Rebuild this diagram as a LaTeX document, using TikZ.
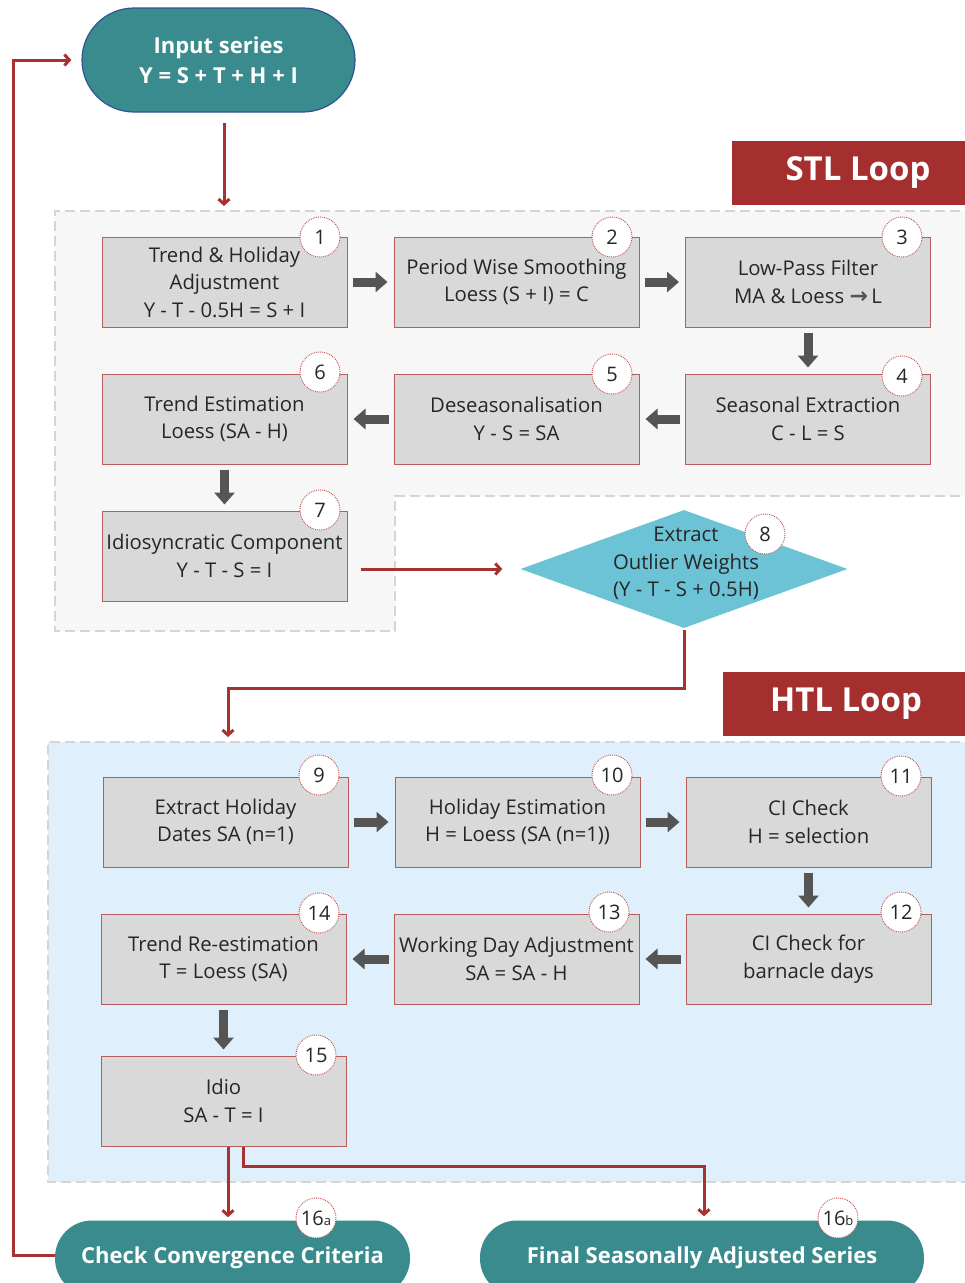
\documentclass[tikz,border=0pt]{standalone}
\usepackage{fontspec}
\setmainfont{Open Sans}
\newfontfamily\dejavu{DejaVu Sans}
\usetikzlibrary{arrows.meta,shapes.geometric}
\definecolor{teal1}{HTML}{3A8B8E}
\definecolor{tealbd}{HTML}{2F5597}
\definecolor{lbred}{HTML}{A52F2F}
\definecolor{boxfill}{HTML}{D9D9D9}
\definecolor{boxbd}{HTML}{B85C5C}
\definecolor{arrgray}{HTML}{555555}
\definecolor{connred}{HTML}{A83232}
\definecolor{stlbg}{HTML}{F7F7F7}
\definecolor{htlbg}{HTML}{DFF0FC}
\definecolor{dashgray}{HTML}{D5D5D5}
\definecolor{diafill}{HTML}{6CC3D5}
\definecolor{numred}{HTML}{C0504D}
\definecolor{txt}{HTML}{262626}
\tikzset{
  stepbox/.style={rectangle, draw=boxbd, fill=boxfill, line width=1pt, minimum width=245pt, minimum height=90pt, align=center, text=txt, inner sep=2pt, font=\fontsize{20.3}{27.5}\selectfont},
  numc/.style={circle, minimum size=40pt, inner sep=0pt, fill=white, draw=numred, densely dotted, line width=0.9pt, text=txt, font=\fontsize{20}{20}\selectfont},
  blk/.style={line width=9pt, draw=arrgray, -{Triangle[length=12pt,width=20pt]}, shorten <=5pt, shorten >=6pt},
  conn/.style={draw=connred, line width=3pt, -{Straight Barb[length=5pt,width=11pt]}},
  region/.style={draw=dashgray, line width=2pt, dash pattern=on 10pt off 5pt},
  pill/.style={rectangle, fill=teal1, text=white, align=center, font=\bfseries\fontsize{22}{30}\selectfont},
  looplbl/.style={rectangle, fill=lbred, text=white, font=\bfseries\fontsize{33}{36}\selectfont}
}
\begin{document}
\begin{tikzpicture}[x=1pt,y=-1pt]
\useasboundingbox (0,0) rectangle (965,1283);
\clip (0,0) rectangle (965,1283);
% regions
\fill[stlbg] (975,211) -- (55,211) -- (55,631) -- (395,631) -- (395,496) -- (975,496) -- cycle;
\draw[region] (975,211) -- (55,211) -- (55,631) -- (395,631) -- (395,496) -- (975,496);
\fill[htlbg] (975,742) -- (48,742) -- (48,1182) -- (975,1182) -- cycle;
\draw[region] (975,742) -- (48,742) -- (48,1182) -- (975,1182);
% loop labels
\node[looplbl, minimum width=252pt, minimum height=64pt] (stl) at (858,173) {STL Loop};
\node[looplbl, minimum width=246pt, minimum height=64pt] (htl) at (846,704) {HTL Loop};
% input
\node[pill, draw=tealbd, line width=1.2pt, minimum width=273pt, minimum height=104pt, rounded corners=52pt] (in) at (218.5,60) {Input series\\Y = S + T + H + I};
% STL boxes
\node[stepbox] (b1) at (224.5,282) {Trend \& Holiday\\Adjustment\\Y - T - 0.5H = S + I};
\node[stepbox] (b2) at (516.5,282) {Period Wise Smoothing\\Loess (S + I) = C};
\node[stepbox] (b3) at (808,282) {Low-Pass Filter\\MA \& Loess {\dejavu\bfseries\fontsize{22}{22}\selectfont\textcolor{arrgray}{→}}\,L};
\node[stepbox] (b4) at (808,419) {Seasonal Extraction\\C - L = S};
\node[stepbox] (b5) at (516.5,419) {Deseasonalisation\\Y - S = SA};
\node[stepbox] (b6) at (224.5,419) {Trend Estimation\\Loess (SA - H)};
\node[stepbox] (b7) at (224.5,556) {Idiosyncratic Component\\Y - T - S = I};
% diamond
\node[diamond, fill=diafill, minimum width=327pt, minimum height=118pt, inner sep=0pt] (dia) at (684,569) {};
\node[align=center, text=txt, font=\fontsize{20.3}{27.5}\selectfont] (diat) at (686,563.5) {Extract\\Outlier Weights\\(Y - T - S + 0.5H)};
% HTL boxes
\node[stepbox] (b9) at (225.5,822) {Extract Holiday\\Dates SA (n=1)};
\node[stepbox] (b10) at (517.5,822) {Holiday Estimation\\H = Loess (SA (n=1))};
\node[stepbox] (b11) at (808.5,822) {CI Check\\H = selection};
\node[stepbox] (b12) at (808.5,959) {CI Check for\\barnacle days};
\node[stepbox] (b13) at (516.5,959) {Working Day Adjustment\\SA = SA - H};
\node[stepbox] (b14) at (223.5,959) {Trend Re-estimation\\T = Loess (SA)};
\node[stepbox] (b15) at (223.5,1101) {Idio\\SA - T = I};
% bottom terminals
\node[pill, minimum width=355pt, minimum height=75pt, rounded corners=37pt] (c16a) at (232.5,1258) {Check Convergence Criteria};
\node[pill, minimum width=444pt, minimum height=75pt, rounded corners=37pt] (c16b) at (702,1258) {Final Seasonally Adjusted Series};
% number circles
\node[numc] (n1) at (320,237) {1};
\node[numc] (n2) at (612,237) {2};
\node[numc] (n3) at (902,237) {3};
\node[numc] (n4) at (902,376) {4};
\node[numc] (n5) at (612,374) {5};
\node[numc] (n6) at (320,372) {6};
\node[numc] (n7) at (320,510) {7};
\node[numc] (n8) at (765,534) {8};
\node[numc] (n9) at (319,775) {9};
\node[numc] (n10) at (612,775) {10};
\node[numc] (n11) at (901,776) {11};
\node[numc] (n12) at (901,912) {12};
\node[numc] (n13) at (609,912) {13};
\node[numc] (n14) at (319,913) {14};
\node[numc] (n15) at (316,1055) {15};
\node[numc] (n16a) at (316,1218) {16{\fontsize{13}{13}\selectfont a}};
\node[numc] (n16b) at (838,1218) {16{\fontsize{13}{13}\selectfont b}};
% block arrows
\draw[blk] (b1) -- (b2);
\draw[blk] (b2) -- (b3);
\draw[blk] (b3) -- (b4);
\draw[blk] (b4) -- (b5);
\draw[blk] (b5) -- (b6);
\draw[blk] (b6) -- (b7);
\draw[blk] (b9) -- (b10);
\draw[blk] (b10) -- (b11);
\draw[blk] (b11) -- (b12);
\draw[blk] (b12) -- (b13);
\draw[blk] (b13) -- (b14);
\draw[blk] (b14) -- (b15);
% red connectors
\coordinate (stltop) at (224,206);
\coordinate (htltop) at (228,737);
\coordinate (turn) at (228,688);
\coordinate (split) at (243,1166);
\coordinate (fb) at (13,60);
\draw[conn, shorten <=10pt] (in.south -| stltop) -- (stltop);
\draw[conn, shorten <=13pt, shorten >=18pt] (b7.east |- dia.west) -- (dia.west);
\draw[conn, shorten <=2pt] (dia.south) -- (dia.south |- turn) -- (turn) -- (htltop);
\draw[conn, shorten >=3pt] ([xshift=4.5pt]b15.south) -- ([xshift=4.5pt]b15.south |- c16a.north);
\draw[conn, shorten >=4pt] (b15.south -| split) -- (split) -| ([xshift=2pt]c16b.north);
\draw[conn, shorten >=10pt] ([yshift=3pt]c16a.west) -| (fb) -- (in.west);
\end{tikzpicture}
\end{document}
